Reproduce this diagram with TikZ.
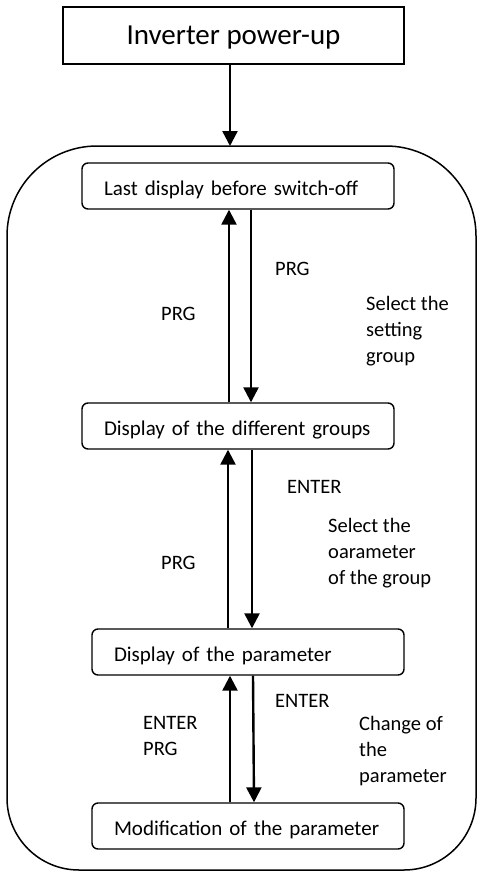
\documentclass[tikz,border=0pt]{standalone}
\usepackage{fontspec}
\setmainfont{Carlito}
\usetikzlibrary{arrows.meta}
\tikzset{
  stepbox/.style={draw, line width=1.4pt, rounded corners=6pt, minimum width=312pt, minimum height=46pt,
    text width=268pt, inner xsep=22pt, inner ysep=0pt, align=left, text height=19pt, text depth=0pt,
    font=\fontsize{21}{25}\selectfont},
  lbl/.style={inner sep=0pt, align=left, font=\fontsize{20.5}{26}\selectfont},
  conn/.style={line width=2.4pt, -{Triangle[width=15pt,length=15pt]}}
}
\begin{document}
\begin{tikzpicture}[x=1pt,y=-1pt]
\useasboundingbox (0,0) rectangle (479,872);
\node[draw, line width=1.5pt, minimum width=341pt, minimum height=57pt, inner sep=0pt,
  text height=19pt, text depth=0pt, font=\fontsize{29}{34}\selectfont] (top) at (233.5,35.5) {Inverter power-up};
\draw[line width=1.5pt] (97,146) -- (386,146) arc[start angle=-90, end angle=0, radius=90]
  -- (476,798) arc[start angle=0, end angle=90, radius=72]
  -- (79,870) arc[start angle=90, end angle=180, radius=72]
  -- (7,236) arc[start angle=180, end angle=270, radius=90] -- cycle;
\coordinate (outertop) at (230,146);
\node[stepbox] (b1) at (238,186) {Last display before switch-off};
\node[stepbox] (b2) at (238,426) {Display of the different groups};
\node[stepbox] (b3) at (248,652) {Display of the parameter};
\node[stepbox] (b4) at (248,826) {Modification of the parameter};
\draw[conn] ([xshift=-3.5pt]top.south) -- (outertop);
\draw[conn] ([xshift=-9pt]b2.north) -- ([xshift=-9pt]b1.south);
\draw[conn] ([xshift=13pt]b1.south) -- ([xshift=13pt]b2.north);
\draw[conn] ([xshift=-20pt]b3.north) -- ([xshift=-10pt]b2.south);
\draw[conn] ([xshift=14pt]b2.south) -- ([xshift=4pt]b3.north);
\draw[conn] ([xshift=-18pt]b4.north) -- ([xshift=-18pt]b3.south);
\draw[conn] ([xshift=5pt]b3.south) -- ([xshift=6pt]b4.north);
\node[lbl, anchor=base west] (l1) at (275,275) {PRG};
\node[lbl, anchor=base west] (l2) at (161,320) {PRG};
\node[lbl, anchor=north west] (l3) at (366,296) {Select the\\setting\\group};
\node[lbl, anchor=base west] (l4) at (287,493) {ENTER};
\node[lbl, anchor=north west] (l5) at (328,518) {Select the\\oarameter\\of the group};
\node[lbl, anchor=base west] (l6) at (161,569) {PRG};
\node[lbl, anchor=base west] (l7) at (275,707) {ENTER};
\node[lbl, anchor=north west] (l8) at (143,716) {ENTER\\PRG};
\node[lbl, anchor=north west] (l9) at (359,716) {Change of\\the\\parameter};
\end{tikzpicture}
\end{document}
